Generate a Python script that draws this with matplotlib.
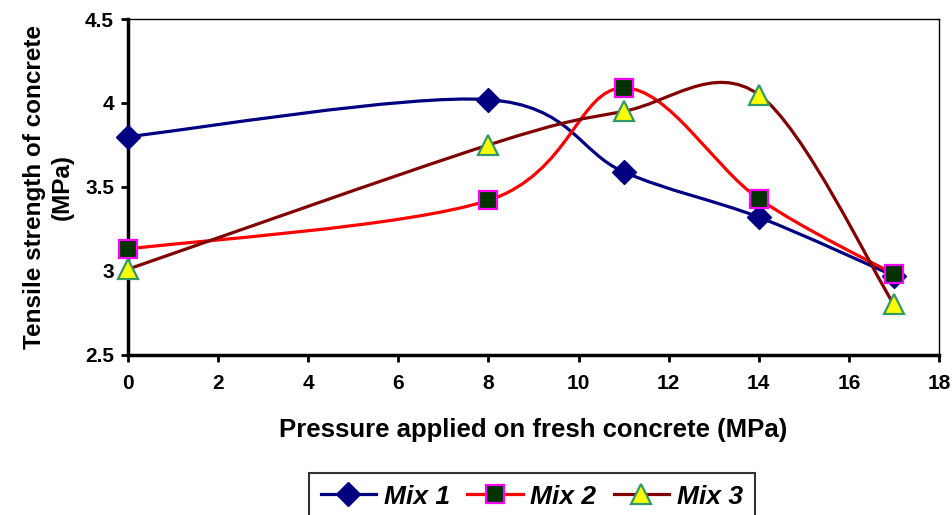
import numpy as np
import matplotlib
matplotlib.use("Agg")
import matplotlib.pyplot as plt
from matplotlib.path import Path
from matplotlib.patches import PathPatch
from matplotlib.lines import Line2D
from matplotlib.transforms import IdentityTransform

pressure = [0, 8, 11, 14, 17]
mix1 = [3.80, 4.02, 3.59, 3.32, 2.97]
mix2 = [3.13, 3.42, 4.09, 3.43, 2.98]
mix3 = [3.01, 3.75, 3.95, 4.05, 2.80]
series_names = ["Mix 1", "Mix 2", "Mix 3"]
x_ticks = [0, 2, 4, 6, 8, 10, 12, 14, 16, 18]
y_ticks = [2.5, 3, 3.5, 4, 4.5]
y_tick_labels = ['2.5', '3', '3.5', '4', '4.5']

plt.rcParams['font.family'] = ['Liberation Sans', 'DejaVu Sans']
plt.rcParams['font.weight'] = 'bold'

fig = plt.figure(figsize=(9.53, 5.15), dpi=100)
ax = fig.add_axes([0.1343, 0.311, 0.851, 0.652])
ax.set_xlim(0, 18)
ax.set_ylim(2.5, 4.5)


def smooth_path(xs, ys, ax):
    # Excel-style smoothed Bezier drawn in display space
    pts = ax.transData.transform(np.column_stack([xs, ys]))
    n = len(pts)
    verts = [pts[0]]
    codes = [Path.MOVETO]
    for i in range(n - 1):
        p0 = pts[i - 1] if i > 0 else pts[i]
        p1 = pts[i]
        p2 = pts[i + 1]
        p3 = pts[i + 2] if i + 2 < n else pts[i + 1]
        c1 = p1 + (p2 - p0) / 6.0
        c2 = p2 - (p3 - p1) / 6.0
        verts += [c1, c2, p2]
        codes += [Path.CURVE4] * 3
    return Path(verts, codes)


styles = [
    dict(color='#000080', marker='D', ms=12, mfc='#000080', mec='#000080', mew=1),
    dict(color='#FF0000', marker='s', ms=13, mfc='#003300', mec='#FF00FF', mew=1.6),
    dict(color='#800000', marker='^', ms=15, mfc='#FFFF00', mec='#339966', mew=1.6),
]
data = [mix1, mix2, mix3]

fig.canvas.draw()
handles = []
for ys, st, name in zip(data, styles, series_names):
    path = smooth_path(pressure, ys, ax)
    patch = PathPatch(path, facecolor='none', edgecolor=st['color'], lw=2.3, zorder=2)
    patch.set_transform(IdentityTransform())
    ax.add_patch(patch)
    ax.plot(pressure, ys, linestyle='none', marker=st['marker'], ms=st['ms'],
            mfc=st['mfc'], mec=st['mec'], mew=st['mew'], zorder=3, clip_on=False)
    handles.append(Line2D([], [], color=st['color'], lw=2.3, marker=st['marker'],
                          ms=st['ms'], mfc=st['mfc'], mec=st['mec'], mew=st['mew'],
                          label=name))

ax.set_xticks(x_ticks)
ax.set_yticks(y_ticks)
ax.set_xticklabels([str(v) for v in x_ticks])
ax.set_yticklabels(y_tick_labels)
ax.tick_params(axis='x', direction='out', length=5, width=2, labelsize=15, pad=9)
ax.tick_params(axis='y', direction='out', length=5, width=2, labelsize=15, pad=5)
for lab in ax.get_xticklabels() + ax.get_yticklabels():
    lab.set_fontweight('bold')
ax.spines['left'].set_linewidth(2.5)
ax.spines['bottom'].set_linewidth(2.5)
ax.spines['top'].set_linewidth(1)
ax.spines['right'].set_linewidth(1)

ax.set_xlabel('Pressure applied on fresh concrete (MPa)', fontsize=18.5, fontweight='bold', labelpad=18)
ax.set_ylabel('Tensile strength of concrete\n(MPa)', fontsize=17.5, fontweight='bold', labelpad=8,
              linespacing=1.3)

leg = fig.legend(handles=handles, loc='upper center', bbox_to_anchor=(0.558, 0.082), ncol=3,
                 frameon=True, fancybox=False, edgecolor='black', handlelength=2.1,
                 columnspacing=0.65, handletextpad=0.3, borderpad=0.45, borderaxespad=0,
                 prop=dict(family='Liberation Sans', weight='bold', style='italic', size=19))
leg.get_frame().set_linewidth(1.5)

fig.savefig('out.png', dpi=100)
